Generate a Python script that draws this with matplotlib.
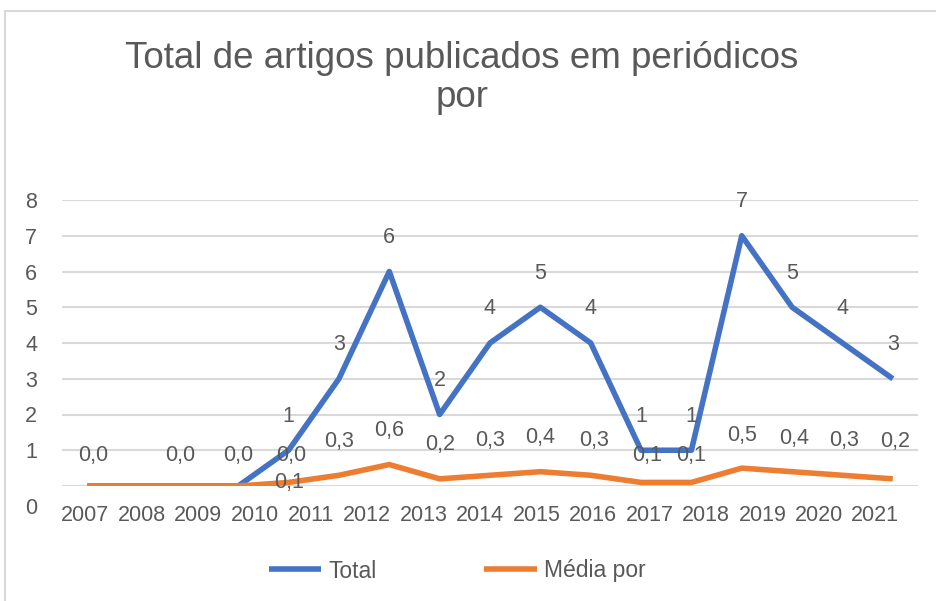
import matplotlib
matplotlib.use('Agg')
from matplotlib import pyplot as plt
from matplotlib.patches import Rectangle
import matplotlib.transforms as mtransforms
import numpy as np

# Data (17 points on the line, 15 year labels on the axis)
years = ["2007", "2008", "2009", "2010", "2011", "2012", "2013", "2014",
         "2015", "2016", "2017", "2018", "2019", "2020", "2021"]
total = [0, 0, 0, 0, 1, 3, 6, 2, 4, 5, 4, 1, 1, 7, 5, 4, 3]
media = [0.0, 0.0, 0.0, 0.0, 0.1, 0.3, 0.6, 0.2, 0.3, 0.4, 0.3, 0.1, 0.1, 0.5, 0.4, 0.3, 0.2]

# Label nudges (pixels) for the orange labels, to copy where the original put them
media_dx = [6, 43, 50, 53, 0, 0, 0, 0, 0, 0, 3, 6, 0, 0, 2, 2, 2]
media_dy = [31, 31, 31, 31, 0, 34, 34, 34, 35, 34, 35, 27, 27, 33, 33, 35, 37]

blue = "#4472C4"
orange = "#ED7D31"
textcol = "#595959"
gridcol = "#D9D9D9"

plt.rcParams['font.family'] = ['Liberation Sans', 'DejaVu Sans']

fig = plt.figure(figsize=(9.36, 6.01), dpi=100)
ax = fig.add_axes([62 / 936, 1 - 486 / 601, 856 / 936, 286 / 601])

# Outer chart frame
fig.patches.append(Rectangle((5 / 936, -0.1), 1.2, 1 - 11 / 601 + 0.1, transform=fig.transFigure,
                             fill=False, edgecolor=gridcol, linewidth=1.5))

x = np.arange(len(total))
ax.plot(x, total, color=blue, linewidth=4.0, solid_capstyle='butt', zorder=3)
ax.plot(x, media, color=orange, linewidth=4.0, solid_capstyle='butt', zorder=3)

# Data labels
for i, v in enumerate(total):
    if v == 0:
        continue
    ax.annotate(str(v), (x[i], v), xytext=(0, 34), textcoords='offset pixels',
                ha='center', va='center', fontsize=15.5, color=textcol, zorder=4)
for i, v in enumerate(media):
    ax.annotate(f"{v:.1f}".replace(".", ","), (x[i], v), xytext=(media_dx[i], media_dy[i]),
                textcoords='offset pixels', ha='center', va='center', fontsize=15.5,
                color=textcol, zorder=4)

ax.set_xlim(-0.5, len(total) - 0.5)
ax.set_ylim(0, 8)

# Year labels are spread evenly, not on the line points
ax.set_xticks(np.linspace(-0.04, 15.65, len(years)))
ax.set_xticklabels(years)
ax.set_yticks(range(0, 9))
ax.tick_params(axis='both', length=0, labelsize=15.5, labelcolor=textcol)
ax.tick_params(axis='x', pad=14)
ax.tick_params(axis='y', pad=18)

# The "0" label sits lower than its gridline in the original
zero_lab = ax.get_yticklabels()[0]
zero_lab.set_transform(zero_lab.get_transform() + mtransforms.ScaledTranslation(0, -20 / 100, fig.dpi_scale_trans))

ax.grid(axis='y', color=gridcol, linewidth=1.5)
ax.set_axisbelow(True)
for s in ax.spines.values():
    s.set_visible(False)

fig.text(462 / 936, 1 - 78 / 601, "Total de artigos publicados em periódicos\npor",
         ha='center', va='center', fontsize=26.5, color=textcol, linespacing=1.17)

lines = ax.get_lines()
fig.legend(lines, ["Total", "Média por"], loc='center', bbox_to_anchor=(457 / 936, 1 - 571 / 601),
           ncol=2, frameon=False, fontsize=16.5, labelcolor=textcol, handlelength=2.3,
           handletextpad=0.3, columnspacing=4.7)

fig.savefig("out.png", dpi=100)
